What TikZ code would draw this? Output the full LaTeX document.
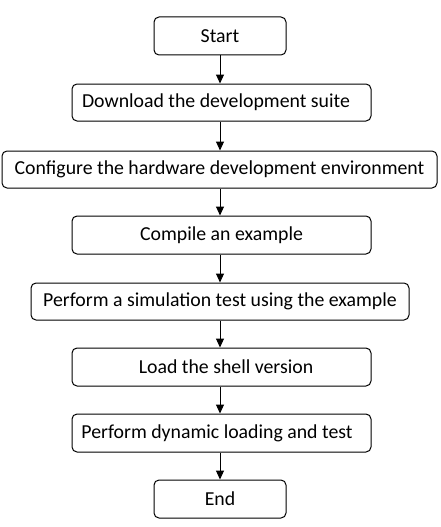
\documentclass[tikz,border=0pt]{standalone}
\usepackage{fontspec}
\setmainfont{Carlito}
\usetikzlibrary{arrows.meta}
\begin{document}
\begin{tikzpicture}[x=1pt,y=-1pt,
  box/.style={draw=black, line width=1pt, rounded corners=5pt, fill=white, inner sep=0pt, font=\fontsize{19.8}{22}\selectfont},
  arr/.style={line width=1pt, -{Triangle[width=8pt,length=9pt]}}]
\useasboundingbox (0,0) rectangle (440,527);
\coordinate (ax) at (220,0);
\node[box, minimum width=132pt, minimum height=38pt] (s) at (220,36) {Start};
\node[box, minimum width=299pt, minimum height=37pt] (d) at (221.5,102.5) {\hspace*{-11pt}Download the development suite};
\node[box, minimum width=435pt, minimum height=37pt] (c) at (219.5,169.5) {Configure the hardware development environment};
\node[box, minimum width=299pt, minimum height=38pt] (e) at (221.5,235) {Compile an example};
\node[box, minimum width=378pt, minimum height=37pt] (p) at (220,301.5) {Perform a simulation test using the example};
\node[box, minimum width=299pt, minimum height=38pt] (l) at (221.5,367) {\hspace*{9pt}Load the shell version};
\node[box, minimum width=299pt, minimum height=38pt] (y) at (221.5,433) {\hspace*{-9pt}Perform dynamic loading and test};
\node[box, minimum width=132pt, minimum height=38pt] (n) at (220,499) {End};
\draw[arr] (s.south -| ax) -- (d.north -| ax);
\draw[arr] (d.south -| ax) -- (c.north -| ax);
\draw[arr] (c.south -| ax) -- (e.north -| ax);
\draw[arr] (e.south -| ax) -- (p.north -| ax);
\draw[arr] (p.south -| ax) -- (l.north -| ax);
\draw[arr] (l.south -| ax) -- (y.north -| ax);
\draw[arr] (y.south -| ax) -- (n.north -| ax);
\end{tikzpicture}
\end{document}
